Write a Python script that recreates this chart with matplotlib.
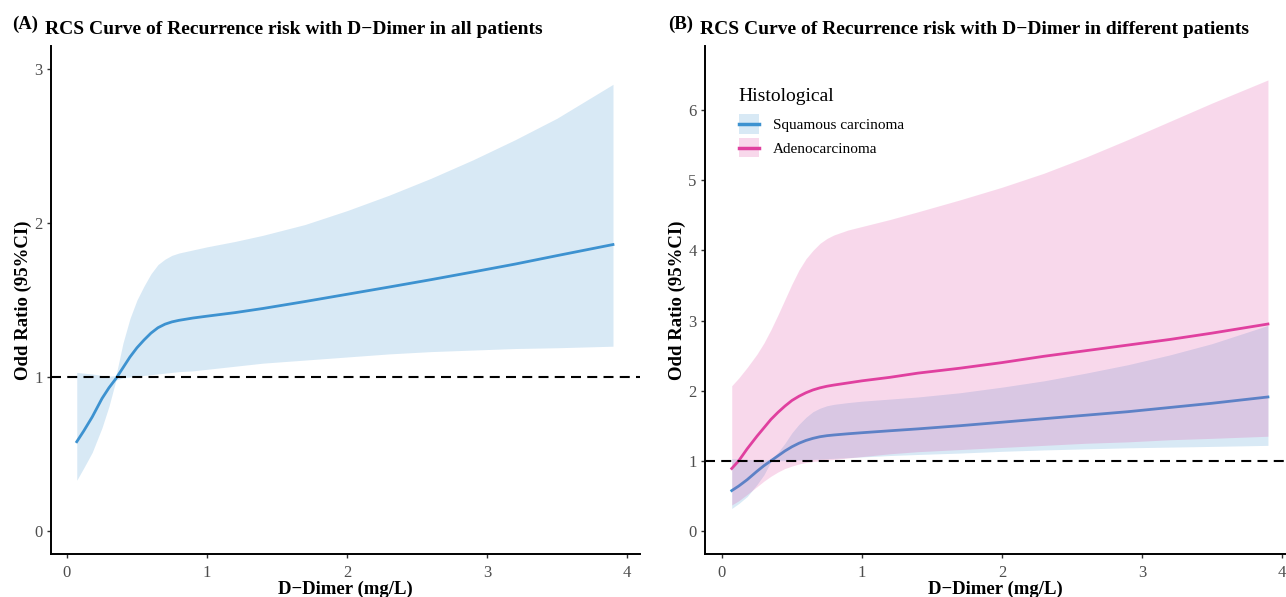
import matplotlib
matplotlib.use("Agg")
import matplotlib.pyplot as plt
from matplotlib.patches import Rectangle
from matplotlib.lines import Line2D
from matplotlib.legend_handler import HandlerBase

plt.rcParams['font.family'] = ['Liberation Serif', 'DejaVu Serif']

# D-Dimer grid (mg/L)
dd = [0.07, 0.12, 0.18, 0.25, 0.30, 0.35, 0.40, 0.45, 0.50, 0.55, 0.60, 0.65, 0.70, 0.75,
      0.80, 0.90, 1.00, 1.20, 1.40, 1.70, 2.00, 2.30, 2.60, 2.90, 3.20, 3.50, 3.90]

# (A) all patients
all_or = [0.58, 0.65, 0.74, 0.86, 0.93, 0.99, 1.06, 1.13, 1.19, 1.24, 1.285, 1.32, 1.343, 1.358,
          1.368, 1.383, 1.395, 1.418, 1.445, 1.49, 1.537, 1.584, 1.632, 1.682, 1.733, 1.788, 1.86]
all_hi = [1.03, 1.025, 1.02, 1.01, 1.005, 1.01, 1.22, 1.38, 1.50, 1.59, 1.67, 1.73, 1.765, 1.79,
          1.805, 1.825, 1.845, 1.88, 1.92, 1.99, 2.08, 2.18, 2.29, 2.41, 2.54, 2.68, 2.90]
all_lo = [0.33, 0.41, 0.51, 0.67, 0.81, 0.98, 0.995, 1.0, 1.005, 1.01, 1.015, 1.02, 1.025, 1.03,
          1.035, 1.04, 1.05, 1.07, 1.09, 1.11, 1.13, 1.15, 1.165, 1.175, 1.185, 1.19, 1.20]

# (B) by histology
groups = ['Squamous carcinoma', 'Adenocarcinoma']
sq_or = [0.575, 0.64, 0.73, 0.85, 0.93, 1.00, 1.07, 1.14, 1.20, 1.25, 1.29, 1.32, 1.343, 1.358,
         1.368, 1.385, 1.40, 1.428, 1.455, 1.50, 1.55, 1.60, 1.65, 1.70, 1.76, 1.82, 1.91]
sq_hi = [1.03, 1.025, 1.02, 1.015, 1.01, 1.02, 1.12, 1.25, 1.40, 1.52, 1.62, 1.70, 1.75, 1.785,
         1.805, 1.83, 1.85, 1.88, 1.91, 1.97, 2.05, 2.14, 2.25, 2.37, 2.51, 2.67, 2.93]
sq_lo = [0.32, 0.39, 0.49, 0.66, 0.80, 0.99, 1.0, 1.0, 1.005, 1.01, 1.015, 1.02, 1.025, 1.03,
         1.035, 1.045, 1.055, 1.075, 1.09, 1.11, 1.135, 1.155, 1.17, 1.185, 1.195, 1.205, 1.22]
ad_or = [0.89, 1.00, 1.17, 1.35, 1.47, 1.59, 1.69, 1.78, 1.86, 1.92, 1.97, 2.01, 2.04, 2.063,
         2.08, 2.11, 2.14, 2.19, 2.25, 2.32, 2.40, 2.49, 2.57, 2.65, 2.73, 2.82, 2.95]
ad_hi = [2.07, 2.18, 2.33, 2.52, 2.68, 2.87, 3.08, 3.30, 3.52, 3.72, 3.88, 4.00, 4.10, 4.17,
         4.22, 4.29, 4.34, 4.44, 4.55, 4.72, 4.90, 5.10, 5.33, 5.58, 5.84, 6.10, 6.43]
ad_lo = [0.37, 0.43, 0.52, 0.63, 0.71, 0.78, 0.84, 0.89, 0.925, 0.955, 0.975, 0.99, 1.0, 1.01,
         1.02, 1.04, 1.06, 1.10, 1.13, 1.16, 1.19, 1.22, 1.25, 1.27, 1.30, 1.32, 1.35]

blue = '#3d92d0'
pink = '#e0409f'


class RibbonKey(HandlerBase):
    # filled square with the line through the middle, like ggplot's key
    def create_artists(self, legend, orig, xd, yd, w, h, fontsize, trans):
        box = Rectangle((-xd, -yd), w, h, facecolor=orig.get_color(), alpha=0.2, lw=0, transform=trans)
        ln = Line2D([-xd, -xd + w], [-yd + h / 2] * 2, color=orig.get_color(), lw=2.5, transform=trans)
        return [box, ln]


fig = plt.figure(figsize=(12.86, 5.97), dpi=100)
axA = fig.add_axes([51/1286, 43/597, 589/1286, 508/597])
axB = fig.add_axes([705/1286, 43/597, 581/1286, 508/597])


def style(ax):
    for s in ['top', 'right']:
        ax.spines[s].set_visible(False)
    for s in ['left', 'bottom']:
        ax.spines[s].set_linewidth(1.4)
    ax.tick_params(length=3, width=1, color='#333333', labelcolor='#4d4d4d', labelsize=12, pad=3)
    ax.tick_params(axis='x', pad=5)
    ax.set_xticks([0, 1, 2, 3, 4])
    ax.set_xlabel('D\u2212Dimer (mg/L)', fontsize=13.5, fontweight='bold', labelpad=0)
    ax.set_ylabel('Odd Ratio (95%CI)', fontsize=13.5, fontweight='bold', labelpad=2)
    ax.axhline(1, color='black', lw=1.5, ls=(0, (4.8, 3.0)), zorder=5)


# panel A
axA.fill_between(dd, all_lo, all_hi, color=blue, alpha=0.2, lw=0)
axA.plot(dd, all_or, color=blue, lw=2)
axA.set_xlim(-0.114, 4.093)
axA.set_ylim(-0.149, 3.149)
axA.set_yticks([0, 1, 2, 3])
style(axA)

# panel B - pink ribbon sits over the squamous line, as in the ggplot output
axB.fill_between(dd, sq_lo, sq_hi, color=blue, alpha=0.2, lw=0, zorder=1)
lb, = axB.plot(dd, sq_or, color=blue, lw=2, zorder=1.5)
axB.fill_between(dd, ad_lo, ad_hi, color=pink, alpha=0.2, lw=0, zorder=1.6)
lp, = axB.plot(dd, ad_or, color=pink, lw=2, zorder=2)
axB.set_xlim(-0.121, 4.029)
axB.set_ylim(-0.329, 6.914)
axB.set_yticks([0, 1, 2, 3, 4, 5, 6])
style(axB)

leg = axB.legend([lb, lp], groups, title='Histological', loc='upper left',
                 bbox_to_anchor=(0.058, 0.918), frameon=False, fontsize=11,
                 title_fontsize=14, handlelength=1.35, handleheight=1.55,
                 labelspacing=0.3, handletextpad=0.9, borderpad=0, borderaxespad=0,
                 handler_map={Line2D: RibbonKey()})
leg._legend_box.align = 'left'
leg._legend_box.sep = 7

# titles
fig.text(12/1286, 1 - 29/597, '(A)', fontsize=13.5, fontweight='bold', va='baseline')
fig.text(45/1286, 1 - 34/597, 'RCS Curve of Recurrence risk with D\u2212Dimer in all patients',
         fontsize=14, fontweight='bold', va='baseline')
fig.text(668/1286, 1 - 29/597, '(B)', fontsize=13.5, fontweight='bold', va='baseline')
fig.text(700/1286, 1 - 34/597, 'RCS Curve of Recurrence risk with D\u2212Dimer in different patients',
         fontsize=14, fontweight='bold', va='baseline')

fig.savefig('out.png', dpi=100)
